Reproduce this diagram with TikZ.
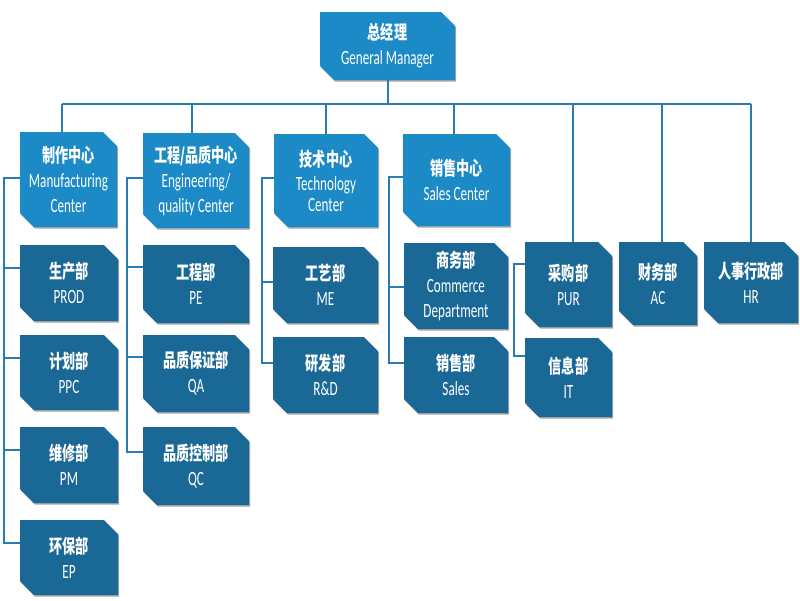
\documentclass[tikz,border=0pt]{standalone}
\usepackage{fontspec}
\newfontfamily\cjk{Noto Sans CJK SC}[FakeStretch=0.69,Scale=1.27]
\newfontfamily\en{Carlito}[FakeStretch=0.65,Scale=1.35]
\usetikzlibrary{shapes.misc,shadows}
\definecolor{cL}{RGB}{27,138,199}
\definecolor{cD}{RGB}{26,104,150}
\definecolor{cC}{RGB}{40,122,178}
\tikzset{
  box/.style={chamfered rectangle, chamfered rectangle corners={north east,south west},
    chamfered rectangle sep=7pt, inner sep=0pt, text=white, align=center,
    font=\fontsize{15}{25}\selectfont,
    drop shadow={shadow xshift=1pt, shadow yshift=-1.5pt, fill=black, opacity=0.35}},
  lt/.style={box, fill=cL},
  dk/.style={box, fill=cD},
  conn/.style={draw=cC, line width=2pt}
}
\newcommand\zh[1]{{\cjk\bfseries #1}}
\newcommand\eng[1]{{\en #1}}
\begin{document}
\begin{tikzpicture}[x=1pt,y=-1pt]
\fill[white] (0,0) rectangle (800,600);
\useasboundingbox (0,0) rectangle (800,600);
% top
\node[lt, minimum width=135pt, minimum height=68pt] (gm) at (387.5,46) {\zh{总经理}\\\eng{General Manager}};
% centers
\node[lt, minimum width=97pt, minimum height=95pt] (mfg) at (68.5,179.5) {\zh{制作中心}\\\eng{Manufacturing}\\\eng{Center}};
\node[lt, minimum width=106pt, minimum height=95pt] (eng) at (196,180.5) {\zh{工程/品质中心}\\\eng{Engineering/}\\\eng{quality Center}};
\node[lt, minimum width=104pt, minimum height=93pt] (tech) at (326,180.5) {\zh{技术中心}\\[-1pt]\eng{Technology}\\[-4pt]\eng{Center}};
\node[lt, minimum width=107pt, minimum height=92pt] (salc) at (456.5,180) {\zh{销售中心}\\\eng{Sales Center}};
% right depts
\node[dk, minimum width=87pt, minimum height=85pt] (pur) at (568.5,284.5) {\zh{采购部}\\\eng{PUR}};
\node[dk, minimum width=78pt, minimum height=83pt] (ac) at (658,283.5) {\zh{财务部}\\\eng{AC}};
\node[dk, minimum width=94pt, minimum height=81pt] (hr) at (751,282.5) {\zh{人事行政部}\\\eng{HR}};
\node[dk, minimum width=87pt, minimum height=79pt] (it) at (568.5,377.5) {\zh{信息部}\\\eng{IT}};
% manufacturing
\node[dk, minimum width=98pt, minimum height=76pt] (prod) at (69,283) {\zh{生产部}\\\eng{PROD}};
\node[dk, minimum width=98pt, minimum height=75pt] (ppc) at (69,372.5) {\zh{计划部}\\\eng{PPC}};
\node[dk, minimum width=98pt, minimum height=76pt] (pm) at (69,465) {\zh{维修部}\\\eng{PM}};
\node[dk, minimum width=98pt, minimum height=75pt] (ep) at (69,557.5) {\zh{环保部}\\\eng{EP}};
% engineering
\node[dk, minimum width=106pt, minimum height=78pt] (pe) at (196,284) {\zh{工程部}\\\eng{PE}};
\node[dk, minimum width=106pt, minimum height=77pt] (qa) at (196,373.5) {\zh{品质保证部}\\\eng{QA}};
\node[dk, minimum width=106pt, minimum height=78pt] (qc) at (196,466) {\zh{品质控制部}\\\eng{QC}};
% technology
\node[dk, minimum width=105pt, minimum height=76pt] (me) at (325.5,285) {\zh{工艺部}\\\eng{ME}};
\node[dk, minimum width=105pt, minimum height=76pt] (rd) at (325.5,375) {\zh{研发部}\\\eng{R\&D}};
% sales
\node[dk, minimum width=104pt, minimum height=86pt] (com) at (456,286) {\zh{商务部}\\\eng{Commerce}\\\eng{Department}};
\node[dk, minimum width=104pt, minimum height=76pt] (sal) at (456,375) {\zh{销售部}\\\eng{Sales}};
% bus
\coordinate (busL) at (62,104);
\coordinate (busR) at (751,104);
\draw[conn] (gm.south) -- (gm.south |- busL);
\draw[conn] (busL) -- (busR);
\draw[conn] ([xshift=-6.5pt]mfg.north) -- ([xshift=-6.5pt]mfg.north |- busL);
\draw[conn] ([xshift=-4pt]eng.north) -- ([xshift=-4pt]eng.north |- busL);
\draw[conn] (tech.north) -- (tech.north |- busL);
\draw[conn] ([xshift=-3pt]salc.north) -- ([xshift=-3pt]salc.north |- busL);
\draw[conn] ([xshift=4pt]pur.north) -- ([xshift=4pt]pur.north |- busL);
\draw[conn] ([xshift=4pt]ac.north) -- ([xshift=4pt]ac.north |- busL);
\draw[conn] (hr.north) -- (hr.north |- busR);
% manufacturing bracket
\draw[conn] ([yshift=2pt]mfg.west) -- ++(-16,0) |- ([yshift=15pt]ep.west);
\foreach \n in {prod,ppc,pm} \draw[conn] ([yshift=15pt]\n.west) -- ++(-16,0);
% engineering bracket
\draw[conn] ([yshift=2.5pt]eng.west) -- ++(-16,0) |- ([yshift=14pt]qc.west);
\foreach \n in {pe,qa} \draw[conn] ([yshift=17pt]\n.west) -- ++(-16,0);
% technology bracket
\draw[conn] ([yshift=2.5pt]tech.west) -- ++(-12,0) |- ([yshift=12pt]rd.west);
\draw[conn] ([yshift=3pt]me.west) -- ++(-12,0);
% sales bracket
\draw[conn] ([yshift=3pt]salc.west) -- ++(-14,0) |- ([yshift=12pt]sal.west);
\draw[conn] ([yshift=-1pt]com.west) -- ++(-14,0);
% pur/it bracket
\draw[conn] ([yshift=21pt]pur.west) -- ++(-11,0) |- ([yshift=22pt]it.west);
\end{tikzpicture}
\end{document}
